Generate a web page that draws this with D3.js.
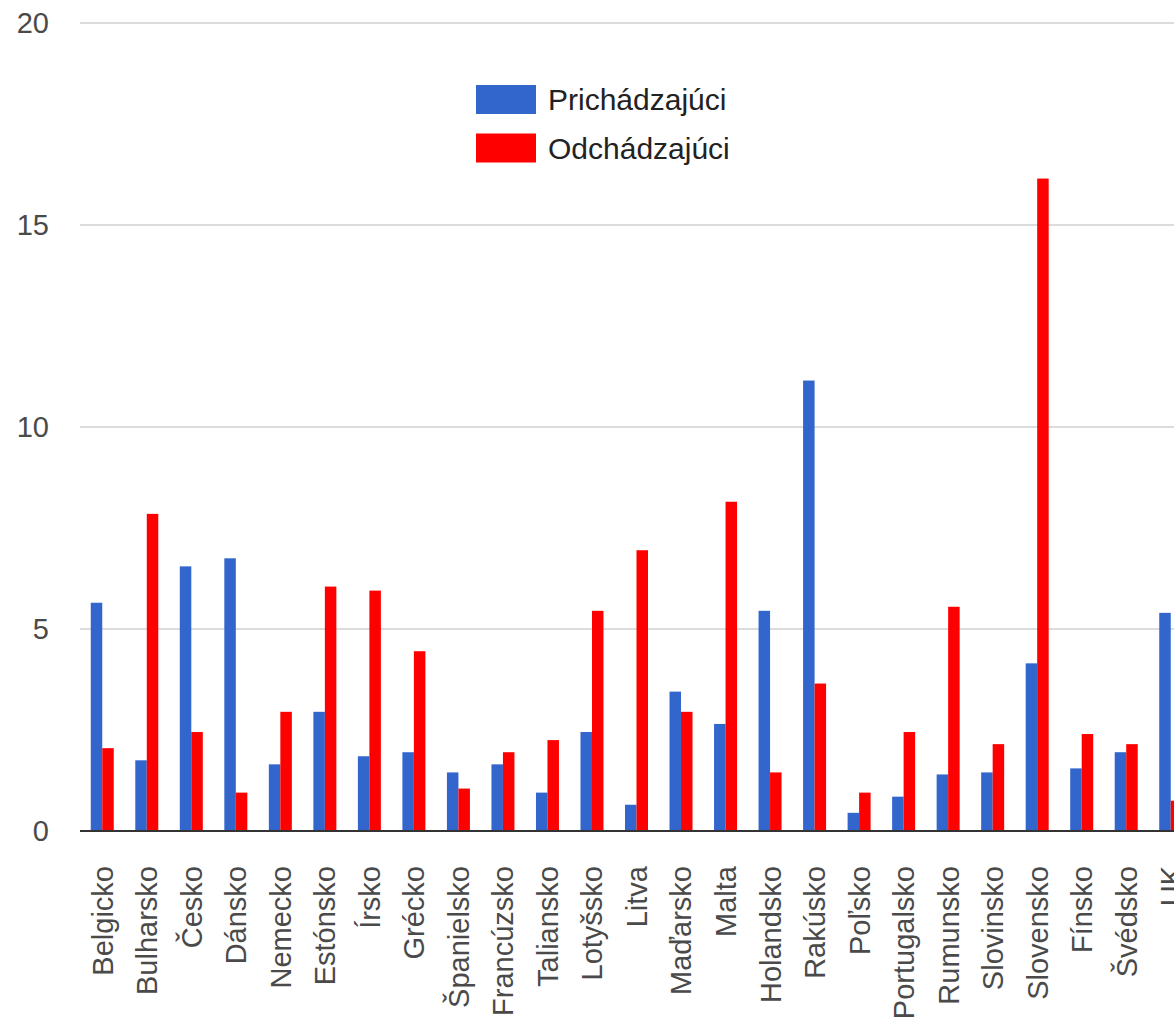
<!DOCTYPE html>
<html>
<head>
<meta charset="utf-8">
<script src="https://d3js.org/d3.v7.min.js"></script>
<style>
  body { margin: 0; background: #fff; }
  svg { display: block; }
  text { font-family: "Liberation Sans", Arial, sans-serif; }
</style>
</head>
<body>
<svg></svg>
<script>
// chart size = browser window
let width = 1174,
  height = 1026;

// data
const countries = ["Belgicko", "Bulharsko", "Česko", "Dánsko", "Nemecko", "Estónsko", "Írsko", "Grécko",
  "Španielsko", "Francúzsko", "Taliansko", "Lotyšsko", "Litva", "Maďarsko", "Malta", "Holandsko",
  "Rakúsko", "Poľsko", "Portugalsko", "Rumunsko", "Slovinsko", "Slovensko", "Fínsko", "Švédsko", "UK"];
const series = ["Prichádzajúci", "Odchádzajúci"];
const incoming = [5.65, 1.75, 6.55, 6.75, 1.65, 2.95, 1.85, 1.95, 1.45, 1.65, 0.95, 2.45, 0.65, 3.45, 2.65, 5.45,
  11.15, 0.45, 0.85, 1.4, 1.45, 4.15, 1.55, 1.95, 5.4];
const outgoing = [2.05, 7.85, 2.45, 0.95, 2.95, 6.05, 5.95, 4.45, 1.05, 1.95, 2.25, 5.45, 6.95, 2.95, 8.15, 1.45,
  3.65, 0.95, 2.45, 5.55, 2.15, 16.15, 2.4, 2.15, 0.75];
const yTicks = [0, 5, 10, 15, 20];
const colors = ["#3366cc", "#ff0000"];

let svg = d3.select("svg").attr("width", width).attr("height", height);

// plot runs past the right edge (the original is cropped there)
let x = d3.scaleBand().domain(countries).range([80, 80 + 44.52 * countries.length]);
let xs = d3.scaleBand().domain(series).range([x.bandwidth() / 2 - 11.5, x.bandwidth() / 2 + 11.5]);
let y = d3.scaleLinear().domain([0, 20]).range([831, 23]);

// gridlines + y labels
svg.append("g")
  .selectAll("line")
  .data(yTicks.filter(d => d > 0))
  .enter()
  .append("line")
  .attr("x1", 80)
  .attr("x2", width)
  .attr("y1", d => y(d))
  .attr("y2", d => y(d))
  .attr("stroke", "#dcdcdc")
  .attr("stroke-width", 2);

svg.append("g")
  .selectAll("text")
  .data(yTicks)
  .enter()
  .append("text")
  .attr("x", 49)
  .attr("y", d => y(d))
  .attr("dy", "0.36em")
  .attr("text-anchor", "end")
  .attr("font-size", 29)
  .attr("fill", "#4a4a4a")
  .text(d => d);

// bars
let rows = countries.map((c, i) => ({ country: c, values: [incoming[i], outgoing[i]] }));

svg.append("g")
  .selectAll("g")
  .data(rows)
  .enter()
  .append("g")
  .attr("transform", d => "translate(" + x(d.country) + ",0)")
  .selectAll("rect")
  .data(d => d.values.map((v, k) => ({ key: series[k], value: v, k: k })))
  .enter()
  .append("rect")
  .attr("x", d => xs(d.key))
  .attr("width", xs.bandwidth())
  .attr("y", d => y(d.value))
  .attr("height", d => y(0) - y(d.value))
  .attr("fill", d => colors[d.k]);

// baseline
svg.append("line")
  .attr("x1", 80)
  .attr("x2", width)
  .attr("y1", y(0))
  .attr("y2", y(0))
  .attr("stroke", "#333")
  .attr("stroke-width", 2);

// x labels, rotated
svg.append("g")
  .selectAll("text")
  .data(countries)
  .enter()
  .append("text")
  .attr("transform", d => "translate(" + (x(d) + x.bandwidth() / 2) + ",866) rotate(-90)")
  .attr("dy", "0.36em")
  .attr("text-anchor", "end")
  .attr("font-size", 29)
  .attr("fill", "#4a4a4a")
  .text(d => d);

// legend
let legend = svg.append("g")
  .selectAll("g")
  .data(series)
  .enter()
  .append("g")
  .attr("transform", (d, i) => "translate(476," + (85 + i * 48.5) + ")");

legend.append("rect")
  .attr("width", 60)
  .attr("height", 29)
  .attr("fill", (d, i) => colors[i]);

legend.append("text")
  .attr("x", 72)
  .attr("y", 14.5)
  .attr("dy", "0.36em")
  .attr("font-size", 30)
  .attr("fill", "#222")
  .text(d => d);
</script>
</body>
</html>
